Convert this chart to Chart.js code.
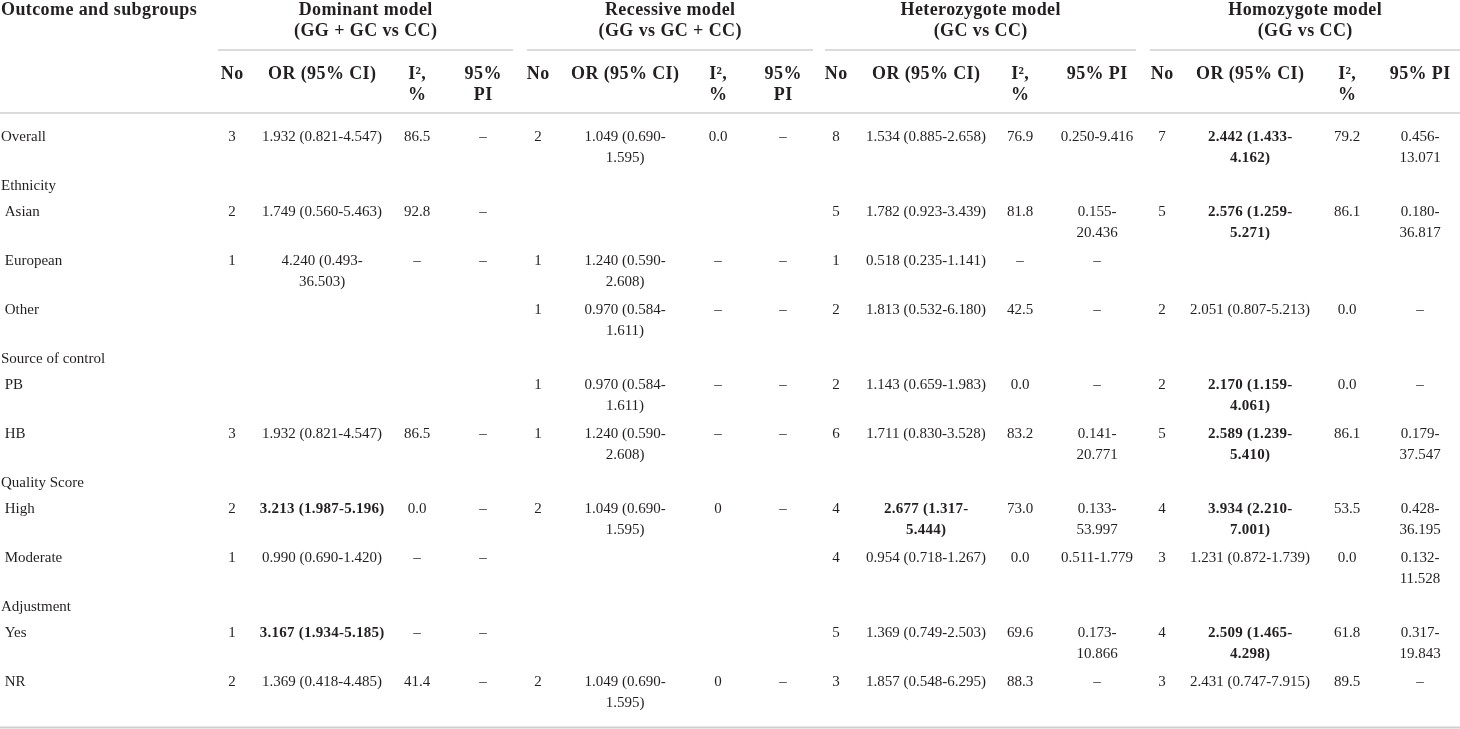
<!DOCTYPE html>
<html>
<head>
<meta charset="utf-8">
<script src="https://cdn.jsdelivr.net/npm/chart.js@4.4.1/dist/chart.umd.min.js"></script>
<style>
  html, body { margin: 0; padding: 0; background: #fff; }
  #wrap { width: 1460px; height: 729px; }
</style>
</head>
<body>
<div id="wrap"><canvas id="table"></canvas></div>
<script>
// table rows (leading space = sub-item of the group above)
const rowLabels = ["Overall", "Ethnicity", " Asian", " European", " Other", "Source of control", " PB", " HB",
  "Quality Score", " High", " Moderate", "Adjustment", " Yes", " NR"];

const firstHeader = "Outcome and subgroups";
const modelNames = ["Dominant model", "Recessive model", "Heterozygote model", "Homozygote model"];
const modelContrasts = ["(GG + GC vs CC)", "(GG vs GC + CC)", "(GC vs CC)", "(GG vs CC)"];
const columnNames = ["No", "OR (95% CI)", "I², %", "95% PI"];

// dominant model
const dominantNo = [3, null, 2, 1, null, null, null, 3, null, 2, 1, null, 1, 2];
const dominantOR = ["1.932 (0.821-4.547)", null, "1.749 (0.560-5.463)", "4.240 (0.493-36.503)", null, null, null,
  "1.932 (0.821-4.547)", null, "3.213 (1.987-5.196)", "0.990 (0.690-1.420)", null, "3.167 (1.934-5.185)", "1.369 (0.418-4.485)"];
const dominantI2 = ["86.5", null, "92.8", "–", null, null, null, "86.5", null, "0.0", "–", null, "–", "41.4"];
const dominantPI = ["–", null, "–", "–", null, null, null, "–", null, "–", "–", null, "–", "–"];

// recessive model
const recessiveNo = [2, null, null, 1, 1, null, 1, 1, null, 2, null, null, null, 2];
const recessiveOR = ["1.049 (0.690-1.595)", null, null, "1.240 (0.590-2.608)", "0.970 (0.584-1.611)", null,
  "0.970 (0.584-1.611)", "1.240 (0.590-2.608)", null, "1.049 (0.690-1.595)", null, null, null, "1.049 (0.690-1.595)"];
const recessiveI2 = ["0.0", null, null, "–", "–", null, "–", "–", null, "0", null, null, null, "0"];
const recessivePI = ["–", null, null, "–", "–", null, "–", "–", null, "–", null, null, null, "–"];

// heterozygote model
const heteroNo = [8, null, 5, 1, 2, null, 2, 6, null, 4, 4, null, 5, 3];
const heteroOR = ["1.534 (0.885-2.658)", null, "1.782 (0.923-3.439)", "0.518 (0.235-1.141)", "1.813 (0.532-6.180)", null,
  "1.143 (0.659-1.983)", "1.711 (0.830-3.528)", null, "2.677 (1.317-5.444)", "0.954 (0.718-1.267)", null,
  "1.369 (0.749-2.503)", "1.857 (0.548-6.295)"];
const heteroI2 = ["76.9", null, "81.8", "–", "42.5", null, "0.0", "83.2", null, "73.0", "0.0", null, "69.6", "88.3"];
const heteroPI = ["0.250-9.416", null, "0.155-20.436", "–", "–", null, "–", "0.141-20.771", null, "0.133-53.997",
  "0.511-1.779", null, "0.173-10.866", "–"];

// homozygote model
const homoNo = [7, null, 5, null, 2, null, 2, 5, null, 4, 3, null, 4, 3];
const homoOR = ["2.442 (1.433-4.162)", null, "2.576 (1.259-5.271)", null, "2.051 (0.807-5.213)", null,
  "2.170 (1.159-4.061)", "2.589 (1.239-5.410)", null, "3.934 (2.210-7.001)", "1.231 (0.872-1.739)", null,
  "2.509 (1.465-4.298)", "2.431 (0.747-7.915)"];
const homoI2 = ["79.2", null, "86.1", null, "0.0", null, "0.0", "86.1", null, "53.5", "0.0", null, "61.8", "89.5"];
const homoPI = ["0.456-13.071", null, "0.180-36.817", null, "–", null, "–", "0.179-37.547", null, "0.428-36.195",
  "0.132-11.528", null, "0.317-19.843", "–"];

const models = [
  [dominantNo, dominantOR, dominantI2, dominantPI],
  [recessiveNo, recessiveOR, recessiveI2, recessivePI],
  [heteroNo, heteroOR, heteroI2, heteroPI],
  [homoNo, homoOR, homoI2, homoPI]
];

// ---- layout ----
const W = 1460, H = 729;
const ink = "#231f20";
const ruleColor = "#cfcfcf";
const headFont = { size: 18, weight: "bold", spacing: 0.4 };
const bodyFont = { size: 15, weight: "normal", spacing: 0 };
const boldBody = { size: 15, weight: "bold", spacing: 0.25 };
const lineH = 21;
const colCenters = [[232, 322, 417, 483], [538, 625, 718, 783], [836, 926, 1020, 1097], [1162, 1250, 1347, 1420]];
const colWidths = [[30, 126, 35, 50], [30, 114, 35, 50], [30, 122, 35, 76], [30, 122, 35, 70]];
const groupSpans = [[218, 513], [527, 813], [825, 1136], [1150, 1460]];
const groupRuleY = 50, headRuleY = 113;
const titleY = 10, colHeadY = 74, firstRowY = 137;

const fontStr = f => `${f.weight} ${f.size}px "Liberation Serif", "Times New Roman", serif`;
const mctx = document.createElement("canvas").getContext("2d");
function textWidth(t, f) {
  mctx.font = fontStr(f);
  return mctx.measureText(t).width + t.length * f.spacing;
}
// greedy wrap with breaks after spaces and hyphens, like the html table did
function wrap(t, f, maxW) {
  if (textWidth(t, f) <= maxW) return [t];
  const parts = t.split(/(?<=[- ])/);
  const out = [];
  let line = "";
  parts.forEach(p => {
    if (line === "" || textWidth((line + p).trimEnd(), f) <= maxW) line += p;
    else { out.push(line.trimEnd()); line = p; }
  });
  if (line) out.push(line.trimEnd());
  return out;
}
// significant when lower CI bound is above 1
const isSignificant = s => { const m = /\(([\d.]+)-/.exec(s || ""); return m ? parseFloat(m[1]) > 1 : false; };

const cells = [];
function addCell(x, y, text, f, align, maxW) {
  const lines = maxW ? wrap(text, f, maxW) : [text];
  cells.push({ x, y, lines, f, align });
  return lines.length;
}

// header
addCell(1, titleY, firstHeader, headFont, "left");
modelNames.forEach((name, m) => {
  const cx = (groupSpans[m][0] + groupSpans[m][1]) / 2;
  addCell(cx, titleY, name, headFont, "center");
  addCell(cx, titleY + lineH, modelContrasts[m], headFont, "center");
  columnNames.forEach((c, k) => addCell(colCenters[m][k], colHeadY, c, headFont, "center", colWidths[m][k]));
});

// body
let y = firstRowY;
const rowYs = [];
rowLabels.forEach((label, r) => {
  rowYs.push(y);
  let maxLines = addCell(1, y, label, bodyFont, "left");
  models.forEach((cols, m) => {
    cols.forEach((arr, k) => {
      const v = arr[r];
      if (v === null || v === undefined) return;
      const f = (k === 1 && isSignificant(v)) ? boldBody : bodyFont;
      maxLines = Math.max(maxLines, addCell(colCenters[m][k], y, String(v), f, "center", colWidths[m][k]));
    });
  });
  y += maxLines * 23 + 3;
});
const bottomRuleY = rowYs[rowYs.length - 1] + 45.5;

const tablePlugin = {
  id: "tableText",
  beforeDatasetsDraw(chart) {
    const { ctx, scales: { x, y } } = chart;
    ctx.save();
    ctx.strokeStyle = ruleColor;
    ctx.lineWidth = 1.3;
    const rule = (x0, x1, yv) => {
      ctx.beginPath();
      ctx.moveTo(x.getPixelForValue(x0), y.getPixelForValue(yv));
      ctx.lineTo(x.getPixelForValue(x1), y.getPixelForValue(yv));
      ctx.stroke();
    };
    groupSpans.forEach(s => rule(s[0], s[1], groupRuleY));
    rule(0, W, headRuleY);
    ctx.lineWidth = 1.8;
    rule(0, W, bottomRuleY);
    ctx.restore();
  },
  afterDatasetsDraw(chart) {
    const ctx = chart.ctx;
    const ys = chart.scales.y;
    ctx.save();
    ctx.fillStyle = ink;
    ctx.textBaseline = "middle";
    chart.data.datasets.forEach((ds, di) => {
      chart.getDatasetMeta(di).data.forEach((pt, i) => {
        const c = ds.data[i].cell;
        ctx.font = fontStr(c.f);
        ctx.letterSpacing = c.f.spacing + "px";
        ctx.textAlign = c.align;
        const shift = c.align === "center" ? c.f.spacing / 2 : 0;
        c.lines.forEach((ln, k) => {
          ctx.fillText(ln, pt.x + shift, ys.getPixelForValue(c.y + k * lineH));
        });
      });
    });
    ctx.restore();
  }
};

new Chart(document.getElementById("table"), {
  type: "scatter",
  data: {
    datasets: [{
      data: cells.map(c => ({ x: c.x, y: c.y, cell: c })),
      pointRadius: 0,
      pointHoverRadius: 0
    }]
  },
  options: {
    responsive: true,
    maintainAspectRatio: false,
    animation: false,
    events: [],
    layout: { padding: 0 },
    plugins: { legend: { display: false }, tooltip: { enabled: false } },
    scales: {
      x: { type: "linear", min: 0, max: W, display: false },
      y: { type: "linear", min: 0, max: H, reverse: true, display: false }
    }
  },
  plugins: [tablePlugin]
});
</script>
</body>
</html>
